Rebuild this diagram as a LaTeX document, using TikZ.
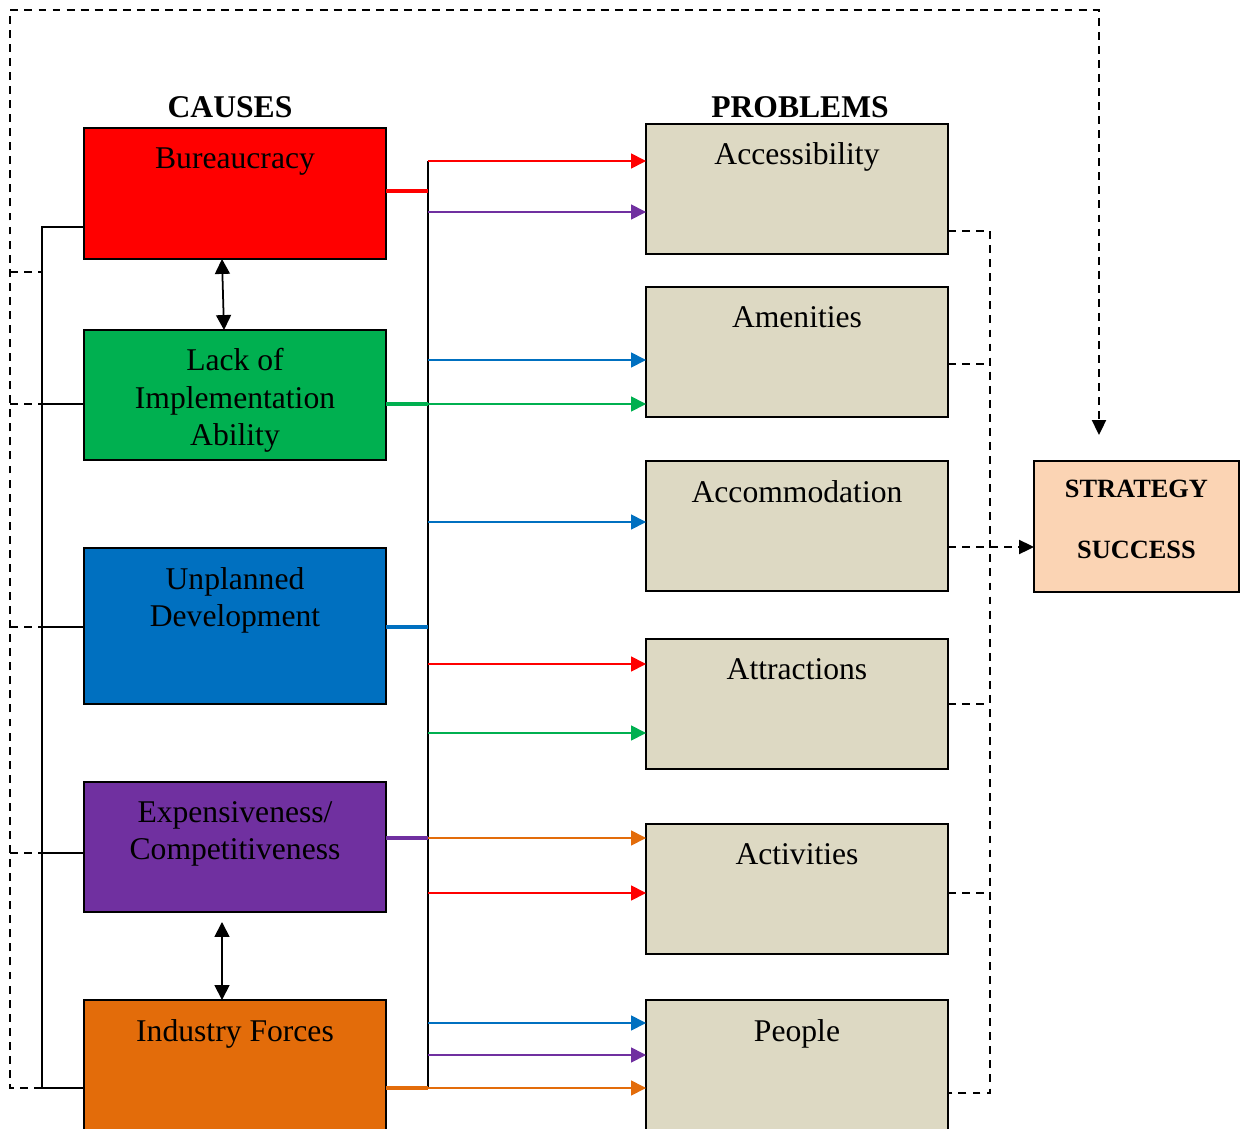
\documentclass[tikz,border=0pt]{standalone}
\usepackage{fontspec}
\setmainfont{Liberation Serif}
\usetikzlibrary{arrows.meta,positioning}

\definecolor{cRed}{RGB}{255,0,0}
\definecolor{cGreen}{RGB}{0,176,80}
\definecolor{cBlue}{RGB}{0,112,192}
\definecolor{cPurple}{RGB}{112,48,160}
\definecolor{cOrange}{RGB}{227,108,10}
\definecolor{beige}{RGB}{221,217,195}
\definecolor{peach}{RGB}{251,212,180}

\tikzset{
  cause/.style={draw=black, line width=1.1pt, minimum width=6.04cm, inner sep=0pt, outer sep=0pt},
  problem/.style={cause, fill=beige},
  lbl/.style={font=\fontsize{18}{21.3}\selectfont, align=center, inner sep=0pt, outer sep=0pt},
  title/.style={font=\fontsize{18}{21}\selectfont\bfseries, inner sep=0pt, anchor=base},
  stub/.style={line width=1.8pt},
  feed/.style={line width=0.9pt, -{Triangle[length=8.5pt,width=8.5pt]}},
  link/.style={line width=0.9pt},
  dline/.style={line width=1pt, dash pattern=on 4.5pt off 3.5pt},
  dtip/.style={-{Triangle[length=8.5pt,width=8pt]}},
  twoway/.style={line width=1pt, {Triangle[length=8.5pt,width=8.5pt]}-{Triangle[length=8.5pt,width=8.5pt]}},
}

\begin{document}
\begin{tikzpicture}[x=0.02cm, y=-0.02cm]
\clip (0,0) rectangle (1242,1129);

% titles
\node[title] (tcauses) at (230,117) {CAUSES};
\node[title] (tprob) at (800,117) {PROBLEMS};

% causes
\node[cause, fill=cRed,    minimum height=2.62cm] (bur)  at (235,193.5) {};
\node[cause, fill=cGreen,  minimum height=2.6cm]  (lack) at (235,395) {};
\node[cause, fill=cBlue,   minimum height=3.12cm] (unpl) at (235,626) {};
\node[cause, fill=cPurple, minimum height=2.6cm]  (expc) at (235,847) {};
\node[cause, fill=cOrange, minimum height=2.8cm]  (ind)  at (235,1070) {};

\node[lbl, below=0.39cm of bur.north]  (tbur)  {Bureaucracy};
\node[lbl, below=0.37cm of lack.north] (tlack) {Lack of\\Implementation\\Ability};
\node[lbl, below=0.39cm of unpl.north] (tunpl) {Unplanned\\Development};
\node[lbl, below=0.39cm of expc.north] (texpc) {Expensiveness/\\Competitiveness};
\node[lbl, below=0.39cm of ind.north]  (tind)  {Industry Forces};

% problems
\node[problem, minimum height=2.6cm] (acc) at (797,189) {};
\node[problem, minimum height=2.6cm] (ame) at (797,352) {};
\node[problem, minimum height=2.6cm] (acm) at (797,526) {};
\node[problem, minimum height=2.6cm] (att) at (797,704) {};
\node[problem, minimum height=2.6cm] (act) at (797,889) {};
\node[problem, minimum height=2.8cm] (peo) at (797,1070) {};

\node[lbl, below=0.37cm of acc.north] (tacc) {Accessibility};
\node[lbl, below=0.39cm of ame.north] (tame) {Amenities};
\node[lbl, below=0.39cm of acm.north] (tacm) {Accommodation};
\node[lbl, below=0.39cm of att.north] (tatt) {Attractions};
\node[lbl, below=0.39cm of act.north] (tact) {Activities};
\node[lbl, below=0.39cm of peo.north] (tpeo) {People};

% outcome
\node[draw=black, line width=1.1pt, fill=peach, minimum width=4.1cm, minimum height=2.62cm,
      inner sep=0pt, outer sep=0pt] (strat) at (1136.5,526.5) {};
\node[lbl, font=\fontsize{15}{18}\selectfont\bfseries, below=0.38cm of strat.north] (tstrat)
  {STRATEGY\\[17pt]SUCCESS};

% central bus from causes to problems
\coordinate (bus) at (428,161);
\coordinate (busend) at (428,1088);
\draw[link] (bus) -- (busend);

\draw[stub, cRed]    (bur.east  |- 0,191)  -- (bus |- 0,191);
\draw[stub, cGreen]  (lack.east |- 0,404)  -- (bus |- 0,404);
\draw[stub, cBlue]   (unpl.east |- 0,627)  -- (bus |- 0,627);
\draw[stub, cPurple] (expc.east |- 0,838)  -- (bus |- 0,838);
\draw[stub, cOrange] (ind.east  |- 0,1088) -- (bus |- 0,1088);

\foreach \yy/\cc/\tg in {161/cRed/acc, 212/cPurple/acc, 360/cBlue/ame, 404/cGreen/ame,
    522/cBlue/acm, 664/cRed/att, 733/cGreen/att, 838/cOrange/act, 893/cRed/act,
    1023/cBlue/peo, 1055/cPurple/peo, 1088/cOrange/peo}
  \draw[feed, \cc] (bus |- 0,\yy) -- (\tg.west |- 0,\yy);

% two-way links between causes
\draw[twoway] (222,0 |- bur.south) -- (224,0 |- lack.north);
\draw[twoway, shorten <=0.2cm] (222,0 |- expc.south) -- (222,0 |- ind.north);

% left solid collector
\coordinate (lbus) at (42,227);
\coordinate (lbusend) at (42,1088);
\draw[link] (bur.west |- lbus) -- (lbus) -- (lbusend) -- (ind.west |- lbusend);
\draw[link] (lbus |- 0,404) -- (lack.west |- 0,404);
\draw[link] (lbus |- 0,627) -- (unpl.west |- 0,627);
\draw[link] (lbus |- 0,853) -- (expc.west |- 0,853);

% dashed feedback loop to the outcome
\draw[dline, dtip, shorten >=0.52cm] (lbusend) -- (10,1088) -- (10,10) -- (1099,10) -- (1099,0 |- strat.north);
\foreach \yy in {272,404,627,853}
  \draw[dline] (10,\yy) -- (lbus |- 0,\yy);

% dashed collector on the right
\coordinate (rbus) at (990,231);
\coordinate (rbusend) at (990,1093);
\draw[dline] (acc.east |- rbus) -- (rbus) -- (rbusend) -- (peo.east |- rbusend);
\draw[dline] (ame.east |- 0,364) -- (rbus |- 0,364);
\draw[dline] (att.east |- 0,704) -- (rbus |- 0,704);
\draw[dline] (act.east |- 0,893) -- (rbus |- 0,893);
\draw[dline, dtip] (acm.east |- 0,547) -- (strat.west |- 0,547);
\end{tikzpicture}
\end{document}
